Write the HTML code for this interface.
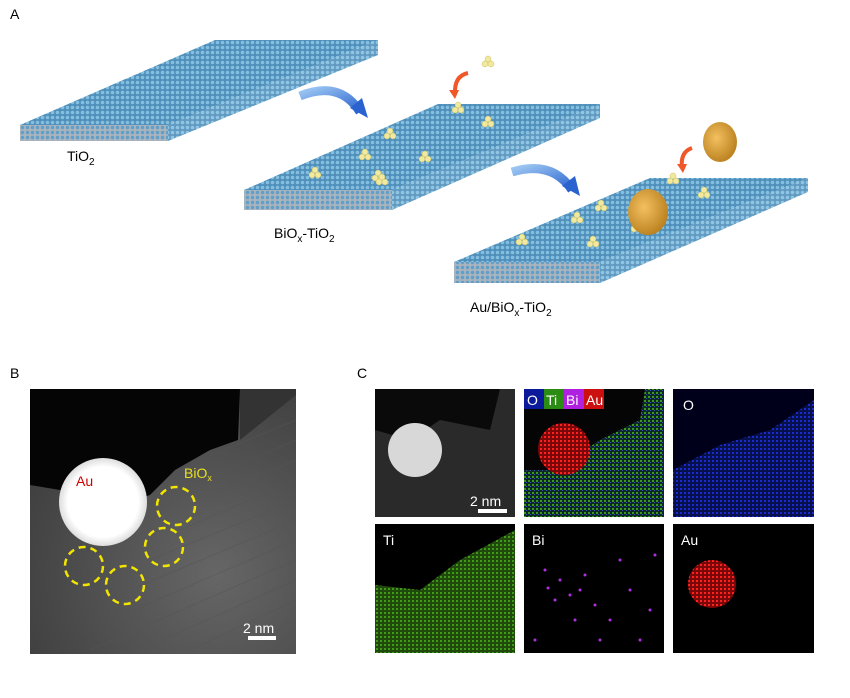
<!DOCTYPE html>
<html><head><style>
body{margin:0;background:#fff;width:850px;height:693px;overflow:hidden;font-family:"Liberation Sans",sans-serif}
</style></head><body>
<svg width="850" height="693" viewBox="0 0 850 693" xmlns="http://www.w3.org/2000/svg" font-family="Liberation Sans, sans-serif">
<defs>
<pattern id="dots" width="5" height="5" patternUnits="userSpaceOnUse">
<rect width="5" height="5" fill="#4f8fba"/><circle cx="2.5" cy="2.5" r="1.8" fill="#84bfe0"/>
</pattern>
<pattern id="side" width="5" height="5" patternUnits="userSpaceOnUse">
<rect width="5" height="5" fill="#a9b4bd"/><circle cx="2.5" cy="2.5" r="1.7" fill="#5f9fc9"/>
</pattern>
<pattern id="gn" width="4" height="4" patternUnits="userSpaceOnUse"><rect width="4" height="4" fill="#1f4a0c"/><rect width="2" height="2" fill="#3f9a18"/></pattern>
<pattern id="bn" width="4" height="4" patternUnits="userSpaceOnUse"><rect width="4" height="4" fill="#06104a"/><rect width="2" height="2" fill="#1a2ad0"/></pattern>
<pattern id="mx" width="4" height="4" patternUnits="userSpaceOnUse"><rect width="4" height="4" fill="#0e2a20"/><rect width="2" height="2" fill="#3a9a20"/><rect x="2" y="2" width="1" height="1" fill="#3050c0"/></pattern>
<pattern id="rn" width="4" height="4" patternUnits="userSpaceOnUse"><rect width="4" height="4" fill="#7a0808"/><rect width="2" height="2" fill="#ff2020"/></pattern>
<radialGradient id="gold" cx="0.4" cy="0.4" r="0.7"><stop offset="0" stop-color="#f3c060"/><stop offset="1" stop-color="#b57a18"/></radialGradient>
<radialGradient id="au" cx="0.5" cy="0.5" r="0.5"><stop offset="0.8" stop-color="#fff"/><stop offset="1" stop-color="#ddd"/></radialGradient>
<linearGradient id="blu" x1="0" y1="0" x2="1" y2="1"><stop offset="0" stop-color="#9cc6f2"/><stop offset="1" stop-color="#2a62d0"/></linearGradient>
<radialGradient id="bg" cx="0.7" cy="0.7" r="0.9"><stop offset="0" stop-color="#666"/><stop offset="1" stop-color="#3a3a3a"/></radialGradient>
<g id="c" fill="#f2e9a0" stroke="#c9bc5c" stroke-width="0.5"><circle cx="0" cy="-3" r="3"/><circle cx="-3" cy="2" r="3"/><circle cx="3" cy="2" r="3"/></g>
</defs>
<text x="10" y="19" font-size="14">A</text>
<polygon points="20,125 215,40 378,40 168,125" fill="url(#dots)"/>
<polygon points="20,125 168,125 168,141 20,141" fill="url(#side)"/>
<polygon points="168,125 378,40 378,55 168,141" fill="url(#dots)" opacity="0.9"/>
<text x="67" y="161" font-size="14">TiO<tspan font-size="10" dy="4">2</tspan></text>
<polygon points="244,190 438,104 600,104 392,190" fill="url(#dots)"/>
<polygon points="244,190 392,190 392,210 244,210" fill="url(#side)"/>
<polygon points="392,190 600,104 600,118 392,210" fill="url(#dots)" opacity="0.9"/>
<text x="274" y="238" font-size="14">BiO<tspan font-size="10" dy="4">x</tspan><tspan dy="-4">-TiO</tspan><tspan font-size="10" dy="4">2</tspan></text>
<polygon points="454,262 650,178 808,178 600,262" fill="url(#dots)"/>
<polygon points="454,262 600,262 600,283 454,283" fill="url(#side)"/>
<polygon points="600,262 808,178 808,192 600,283" fill="url(#dots)" opacity="0.9"/>
<text x="470" y="312" font-size="14">Au/BiO<tspan font-size="10" dy="4">x</tspan><tspan dy="-4">-TiO</tspan><tspan font-size="10" dy="4">2</tspan></text>
<use href="#c" x="488" y="62"/><use href="#c" x="458" y="108"/><use href="#c" x="488" y="122"/><use href="#c" x="390" y="134"/>
<use href="#c" x="365" y="155"/><use href="#c" x="425" y="157"/><use href="#c" x="378" y="176"/><use href="#c" x="315" y="173"/>
<use href="#c" x="382" y="180"/><use href="#c" x="673" y="179"/><use href="#c" x="704" y="193"/><use href="#c" x="601" y="206"/>
<use href="#c" x="577" y="218"/><use href="#c" x="637" y="227"/><use href="#c" x="522" y="240"/><use href="#c" x="593" y="242"/>
<ellipse cx="720" cy="142" rx="17" ry="20" fill="url(#gold)"/>
<ellipse cx="648" cy="212" rx="20" ry="23" fill="url(#gold)"/>
<path d="M300,96 Q340,80 360,112" fill="none" stroke="url(#blu)" stroke-width="9"/>
<polygon points="350,108 368,118 362,98" fill="#2a62d0"/>
<path d="M512,172 Q552,160 572,190" fill="none" stroke="url(#blu)" stroke-width="9"/>
<polygon points="562,186 580,196 575,176" fill="#2a62d0"/>
<path d="M468,73 Q454,76 455,94" fill="none" stroke="#f0582a" stroke-width="4"/>
<polygon points="449,90 459,90 455,99" fill="#f0582a"/>
<path d="M692,148 Q680,152 682,168" fill="none" stroke="#f0582a" stroke-width="4"/>
<polygon points="677,164 687,164 683,173" fill="#f0582a"/>
<text x="10" y="378" font-size="14">B</text>
<rect x="30" y="389" width="266" height="265" fill="url(#bg)"/>
<g stroke="#555" stroke-width="1" opacity="0.5">
<path d="M200,460 L296,420 M200,480 L296,440 M200,500 L296,460 M180,530 L296,480 M150,560 L296,500 M130,590 L296,520 M110,620 L296,540 M90,650 L296,560 M140,650 L296,580 M190,650 L296,600 M240,650 L296,620"/>
</g>
<path d="M30,389 L240,389 L238,440 L210,450 L175,470 L150,495 L120,505 L60,490 L30,485 Z" fill="#050505"/>
<path d="M240,389 L296,389 L296,395 L240,440 Z" fill="#333"/>
<circle cx="103" cy="502" r="44" fill="url(#au)"/>
<text x="76" y="486" font-size="14" fill="#cc0000">Au</text>
<text x="184" y="478" font-size="14" fill="#e8e020">BiO<tspan font-size="9" dy="3">x</tspan></text>
<g fill="none" stroke="#f2e600" stroke-width="2.5" stroke-dasharray="7,5">
<circle cx="176" cy="506" r="19"/><circle cx="164" cy="547" r="19"/><circle cx="84" cy="566" r="19"/><circle cx="125" cy="585" r="19"/>
</g>
<text x="243" y="633" font-size="14" fill="#fff">2 nm</text>
<rect x="248" y="636" width="28" height="4" fill="#fff"/>
<text x="357" y="378" font-size="14">C</text>
<rect x="375" y="389" width="140" height="128" fill="#2a2a2a"/>
<path d="M375,389 L500,389 L490,430 L440,420 L410,440 L375,430 Z" fill="#0a0a0a"/>
<circle cx="415" cy="450" r="27" fill="#d8d8d8"/>
<text x="470" y="506" font-size="14" fill="#fff">2 nm</text>
<rect x="478" y="509" width="29" height="4" fill="#fff"/>
<rect x="524" y="389" width="140" height="128" fill="url(#mx)"/>
<path d="M524,389 L645,389 L640,420 L600,440 L555,470 L524,470 Z" fill="#050505"/>
<circle cx="564" cy="449" r="26" fill="url(#rn)"/>
<rect x="524" y="389" width="20" height="20" fill="#0a1a9a"/><text x="527" y="405" font-size="14" fill="#fff">O</text>
<rect x="544" y="389" width="20" height="20" fill="#2a8c12"/><text x="546" y="405" font-size="14" fill="#fff">Ti</text>
<rect x="564" y="389" width="20" height="20" fill="#b020e0"/><text x="566" y="405" font-size="14" fill="#fff">Bi</text>
<rect x="584" y="389" width="20" height="20" fill="#cc1010"/><text x="586" y="405" font-size="14" fill="#fff">Au</text>
<rect x="673" y="389" width="141" height="128" fill="#00001a"/>
<path d="M673,517 L673,470 L720,445 L770,430 L814,400 L814,517 Z" fill="url(#bn)"/>
<text x="683" y="410" font-size="14" fill="#fff">O</text>
<rect x="375" y="524" width="140" height="129" fill="#000"/>
<path d="M375,653 L375,585 L420,590 L460,560 L515,530 L515,653 Z" fill="url(#gn)"/>
<text x="383" y="545" font-size="14" fill="#fff">Ti</text>
<rect x="524" y="524" width="140" height="129" fill="#000"/>
<g fill="#b030e0">
<circle cx="545" cy="570" r="1.5"/><circle cx="560" cy="580" r="1.5"/><circle cx="570" cy="595" r="1.5"/><circle cx="585" cy="575" r="1.5"/><circle cx="555" cy="600" r="1.5"/><circle cx="595" cy="605" r="1.5"/><circle cx="610" cy="620" r="1.5"/><circle cx="630" cy="590" r="1.5"/><circle cx="650" cy="610" r="1.5"/><circle cx="640" cy="640" r="1.5"/><circle cx="600" cy="640" r="1.5"/><circle cx="575" cy="620" r="1.5"/><circle cx="535" cy="640" r="1.5"/><circle cx="620" cy="560" r="1.5"/><circle cx="655" cy="555" r="1.5"/><circle cx="580" cy="590" r="1.5"/><circle cx="548" cy="588" r="1.5"/>
</g>
<text x="532" y="545" font-size="14" fill="#fff">Bi</text>
<rect x="673" y="524" width="141" height="129" fill="#000"/>
<circle cx="712" cy="584" r="24" fill="url(#rn)"/>
<text x="681" y="545" font-size="14" fill="#fff">Au</text>
</svg>
</body></html>
